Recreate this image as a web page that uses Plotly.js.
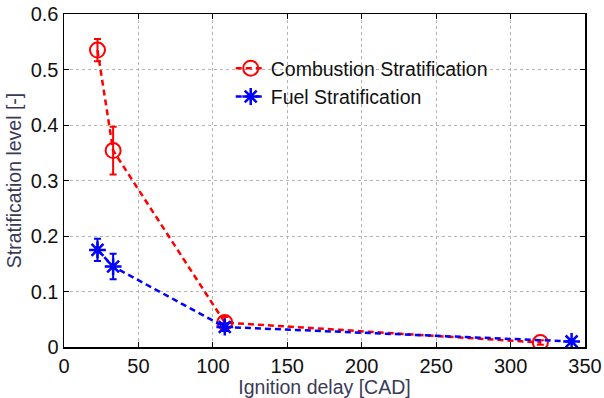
<!DOCTYPE html>
<html><head><meta charset="utf-8">
<script src="https://cdn.plot.ly/plotly-3.0.1.min.js"></script>
<style>body{margin:0;background:#fff}#c{width:604px;height:398px}</style>
</head><body><div id="c"></div>
<script>
const combX = [22.5, 33, 108, 320];
const combY = [0.535, 0.354, 0.044, 0.008];
const combErr = [0.02, 0.043, 0.01, 0.004];
const fuelX = [22.5, 33, 108, 341];
const fuelY = [0.175, 0.145, 0.036, 0.01];
const fuelErr = [0.02, 0.023, 0.007, 0.003];
const xTicks = [0, 50, 100, 150, 200, 250, 300, 350];
const yTicks = [0, 0.1, 0.2, 0.3, 0.4, 0.5, 0.6];
const yTickText = ['0', '0.1', '0.2', '0.3', '0.4', '0.5', '0.6'];

const traces = [
  {x: combX, y: combY, name: 'Combustion Stratification', type: 'scatter', mode: 'lines+markers',
   line: {color: '#ff0000', dash: '6px,4px', width: 2.5},
   marker: {symbol: 'circle-open', size: 15, color: '#ff0000', line: {width: 2}},
   error_y: {type: 'data', array: combErr, visible: true, color: '#ff0000', thickness: 2, width: 3.5}},
  {x: fuelX, y: fuelY, name: 'Fuel Stratification', type: 'scatter', mode: 'lines+markers',
   line: {color: '#0000ff', dash: '6px,4px', width: 2.5},
   marker: {symbol: 'asterisk-open', size: 14, color: '#0000ff', line: {width: 2.5, color: '#0000ff'}},
   error_y: {type: 'data', array: fuelErr, visible: true, color: '#0000ff', thickness: 2, width: 3.5}}
];

const layout = {
  width: 604, height: 398,
  margin: {l: 64, r: 19, t: 14, b: 51},
  paper_bgcolor: '#fff', plot_bgcolor: '#fff',
  font: {family: 'Liberation Sans, Arial, sans-serif', color: '#111'},
  showlegend: true,
  legend: {x: 0.32, y: 0.895, xanchor: 'left', yanchor: 'top', bgcolor: 'rgba(0,0,0,0)',
           font: {size: 19.5, color: '#111'}, tracegroupgap: 2},
  xaxis: {range: [0, 350], tickvals: xTicks, ticktext: xTicks.map(String),
          showgrid: true, gridcolor: '#b4b4b4', griddash: 'dot', gridwidth: 1,
          zeroline: false, showline: true, linecolor: '#000', linewidth: 1.5, mirror: 'ticks',
          ticks: 'inside', ticklen: 5, tickcolor: '#000', tickfont: {size: 20, color: '#111'},
          title: {text: 'Ignition delay [CAD]', font: {size: 19.5, color: '#3a3a58'}, standoff: 2}},
  yaxis: {range: [0, 0.6], tickvals: yTicks, ticktext: yTickText,
          showgrid: true, gridcolor: '#b4b4b4', griddash: 'dot', gridwidth: 1,
          zeroline: false, showline: true, linecolor: '#000', linewidth: 1.5, mirror: 'ticks',
          ticks: 'inside', ticklen: 5, tickcolor: '#000', tickfont: {size: 20, color: '#111'},
          title: {text: 'Stratification level [-]', font: {size: 19.5, color: '#3a3a58'}, standoff: 4}}
};
Plotly.newPlot('c', traces, layout, {staticPlot: true});
</script></body></html>
